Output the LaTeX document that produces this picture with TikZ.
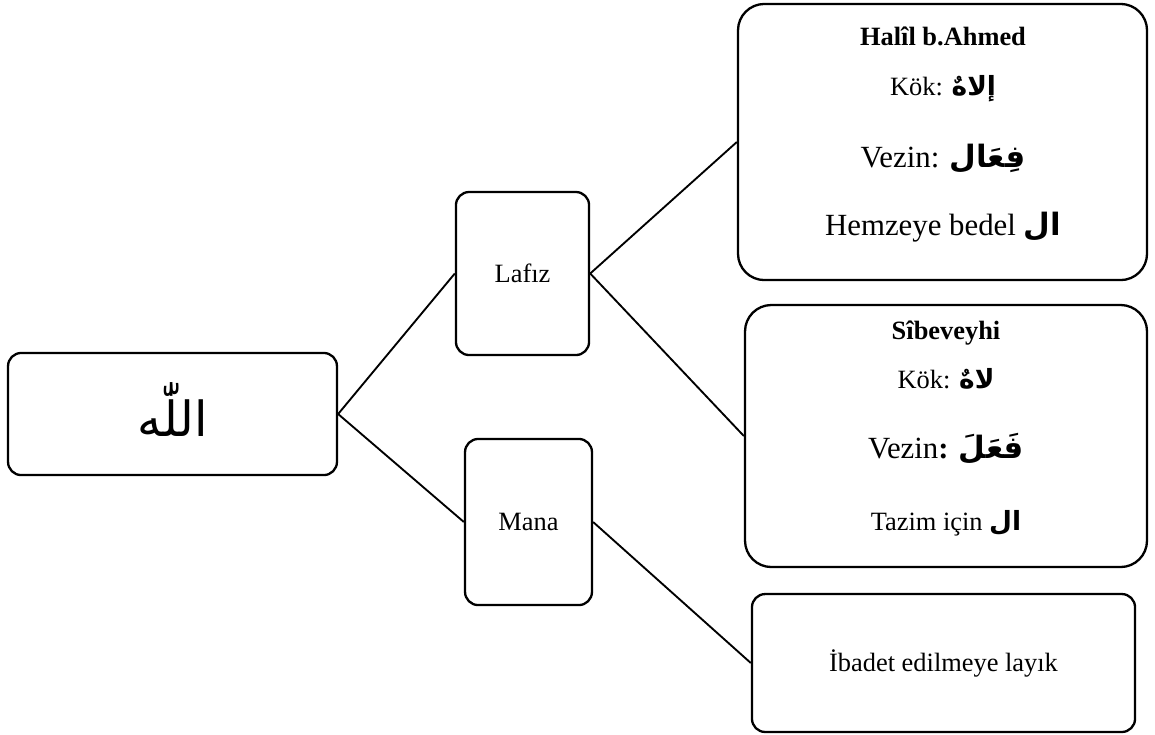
\documentclass[tikz,border=0pt]{standalone}
\usepackage{fontspec}
\setmainfont{Liberation Serif}
\newfontfamily\arabfont[Script=Arabic]{DejaVu Sans}
\TeXXeTstate=1
\newcommand{\arap}[1]{{\arabfont\bfseries\beginR #1\endR}}

\begin{document}
\begin{tikzpicture}[x=0.4545pt, y=-0.4545pt, line width=0.85pt]
    \tikzstyle{kutu}=[draw, line width=1.05pt, rounded corners=6pt, inner sep=0pt,
                      font=\fontsize{12}{14}\selectfont]
    \tikzstyle{buyuk kutu}=[kutu, rounded corners=12pt]
    \tikzstyle{yazi}=[inner sep=0pt, anchor=base, font=\fontsize{12}{14}\selectfont]
    \tikzstyle{iri yazi}=[yazi, font=\fontsize{14}{17}\selectfont]

    \useasboundingbox (0,0) rectangle (1155,734);

    % kutular
    \node[kutu, minimum width=149.5pt, minimum height=55.5pt] (allah) at (172.5,414)
        {\raisebox{4pt}{\fontsize{22}{26}\selectfont\arabfont\beginR اللّٰه\endR}};
    \node[kutu, minimum width=60.5pt, minimum height=74.1pt]  (lafiz)  at (522.5,273.5) {Lafız};
    \node[kutu, minimum width=57.7pt, minimum height=75.5pt]  (mana)   at (528.5,522)   {Mana};
    \node[buyuk kutu, minimum width=185.9pt, minimum height=125.5pt] (halil) at (942.5,142) {};
    \node[buyuk kutu, minimum width=182.7pt, minimum height=119.1pt] (sibeveyhi) at (946,436) {};
    \node[kutu, minimum width=174.1pt, minimum height=62.7pt] (ibadet) at (943.5,663)
        {İbadet edilmeye layık};

    % Halil b. Ahmed
    \node[yazi]     (halil-ad)    at (943,45)  {\textbf{Halîl b.Ahmed}};
    \node[yazi]     (halil-kok)   at (943,95)  {Kök: \arap{إلاهٌ}};
    \node[iri yazi] (halil-vezin) at (943,167) {Vezin: \arap{فِعَال}};
    \node[iri yazi] (halil-harf)  at (943,235) {Hemzeye bedel \arap{ال}};

    % Sibeveyhi
    \node[yazi]     (sib-ad)    at (946,339) {\textbf{Sîbeveyhi}};
    \node[yazi]     (sib-kok)   at (946,388) {Kök: \arap{لاهٌ}};
    \node[iri yazi] (sib-vezin) at (946,458) {Vezin\textbf{:} \arap{فَعَلَ}};
    \node[yazi]     (sib-harf)  at (946,530) {Tazim için \arap{ال}};

    % baglantilar
    \path (allah.east) edge (lafiz.west);
    \path (allah.east) edge (mana.west);
    \path (lafiz.east) edge (halil.west);
    \path (lafiz.east) edge (sibeveyhi.west);
    \path (mana.east)  edge (ibadet.west);
\end{tikzpicture}
\end{document}
